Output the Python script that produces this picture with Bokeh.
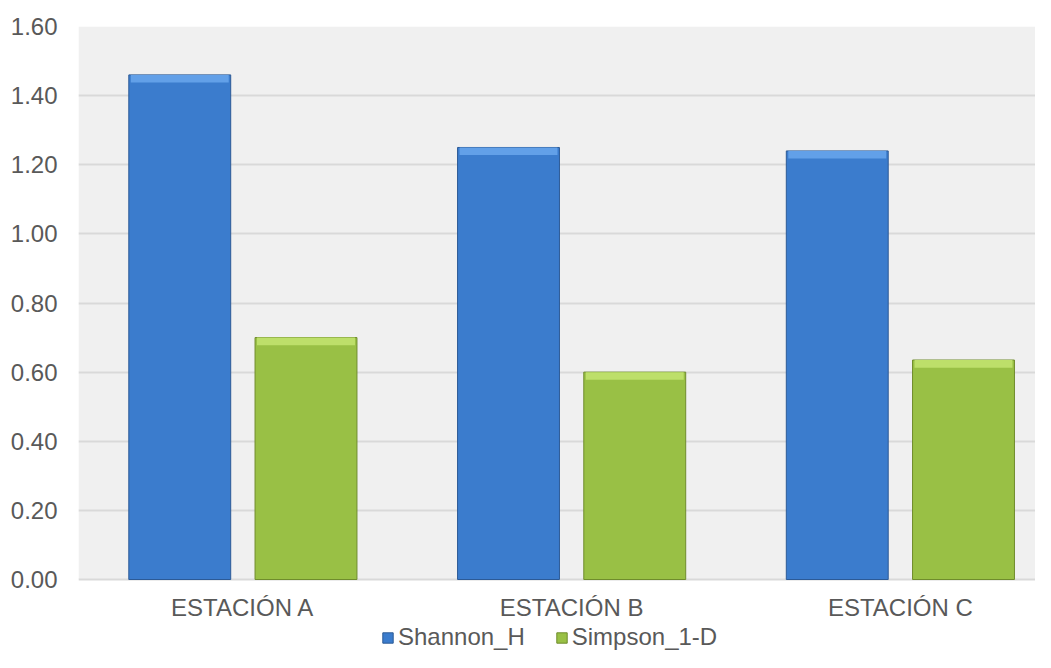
import numpy as np
from bokeh.plotting import figure
from bokeh.models import (Range1d, FixedTicker, Legend, LegendItem, NumeralTickFormatter,
                          ColumnDataSource, BoxAnnotation)
from bokeh.core.properties import value
from bokeh.embed import file_html
from bokeh.resources import INLINE

# ---- data ----
categories = ["ESTACIÓN A", "ESTACIÓN B", "ESTACIÓN C"]
shannon_h = [1.46, 1.25, 1.24]
simpson_1d = [0.70, 0.60, 0.635]
series_names = ["Shannon_H", "Simpson_1-D"]
y_ticks = [0.0, 0.2, 0.4, 0.6, 0.8, 1.0, 1.2, 1.4, 1.6]

# ---- style ----
FONT = "Liberation Sans"
TXT = "#595959"
BLUE = "#3b7ccd"
BLUE_LINE = "#2c5a96"
BLUE_HI = "#62a0e8"
GREEN = "#99c045"
GREEN_LINE = "#6f8c2c"
GREEN_HI = "#bddf6a"

centers = np.arange(len(categories)) + 0.5
offset = 0.192
bar_w = 0.31
Y_MIN, Y_MAX = 0.0, 1.6
px_per_unit = 553 / (Y_MAX - Y_MIN)
y_start = -(652 - 26 - 553) / px_per_unit   # frame extends under the plot area for labels/legend

src = ColumnDataSource(dict(
    x_sh=centers - offset,
    x_si=centers + offset,
    sh=shannon_h,
    si=simpson_1d,
    sh_hi=np.array(shannon_h) - 0.022,
    si_hi=np.array(simpson_1d) - 0.022,
))
cat_src = ColumnDataSource(dict(x=centers, y=[0.0] * len(categories), text=categories))

p = figure(width=1035, height=652, output_backend="svg", toolbar_location=None,
           x_range=Range1d(0, 2.911), y_range=Range1d(y_start, Y_MAX),
           x_axis_location=None,
           min_border_left=78, min_border_right=0, min_border_top=26, min_border_bottom=0)

p.background_fill_color = "white"
p.border_fill_color = "white"
p.outline_line_color = None

# grey plot area
p.add_layout(BoxAnnotation(bottom=Y_MIN, top=Y_MAX, fill_color="#f0f0f0", fill_alpha=1,
                           line_color=None, level="image"))

r1 = p.vbar(x="x_sh", top="sh", bottom=0, width=bar_w, source=src,
            fill_color=BLUE, line_color=BLUE_LINE, line_width=1)
p.vbar(x="x_sh", top="sh", bottom="sh_hi", width=bar_w - 0.012, source=src,
       fill_color=BLUE_HI, line_color=None)
r2 = p.vbar(x="x_si", top="si", bottom=0, width=bar_w, source=src,
            fill_color=GREEN, line_color=GREEN_LINE, line_width=1)
p.vbar(x="x_si", top="si", bottom="si_hi", width=bar_w - 0.012, source=src,
       fill_color=GREEN_HI, line_color=None)

# category labels under the plot area
p.text(x="x", y="y", text="text", source=cat_src, text_align="center", text_baseline="middle",
       y_offset=28, text_font=value(FONT), text_font_size="24px", text_color=TXT)

# y axis
p.yaxis.ticker = FixedTicker(ticks=y_ticks)
p.yaxis.formatter = NumeralTickFormatter(format="0.00")
p.yaxis.axis_line_color = None
p.yaxis.major_tick_line_color = None
p.yaxis.minor_tick_line_color = None
p.yaxis.major_tick_out = 0
p.yaxis.major_tick_in = 0
p.yaxis.major_label_text_font = FONT
p.yaxis.major_label_text_font_size = "24px"
p.yaxis.major_label_text_color = TXT
p.yaxis.major_label_standoff = 21

p.xgrid.grid_line_color = None
p.ygrid.ticker = FixedTicker(ticks=y_ticks)
p.ygrid.grid_line_color = "#d9d9d9"
p.ygrid.grid_line_width = 2

legend = Legend(items=[LegendItem(label=series_names[0], renderers=[r1]),
                       LegendItem(label=series_names[1], renderers=[r2])],
                location=(303, 1), orientation="horizontal",
                background_fill_alpha=0, border_line_alpha=0,
                padding=0, margin=0, spacing=30, label_standoff=4,
                glyph_width=13, glyph_height=13, label_height=23,
                label_text_font=FONT, label_text_font_size="24px",
                label_text_color=TXT)
p.add_layout(legend)

open("out.html", "w").write(file_html(p, INLINE))
